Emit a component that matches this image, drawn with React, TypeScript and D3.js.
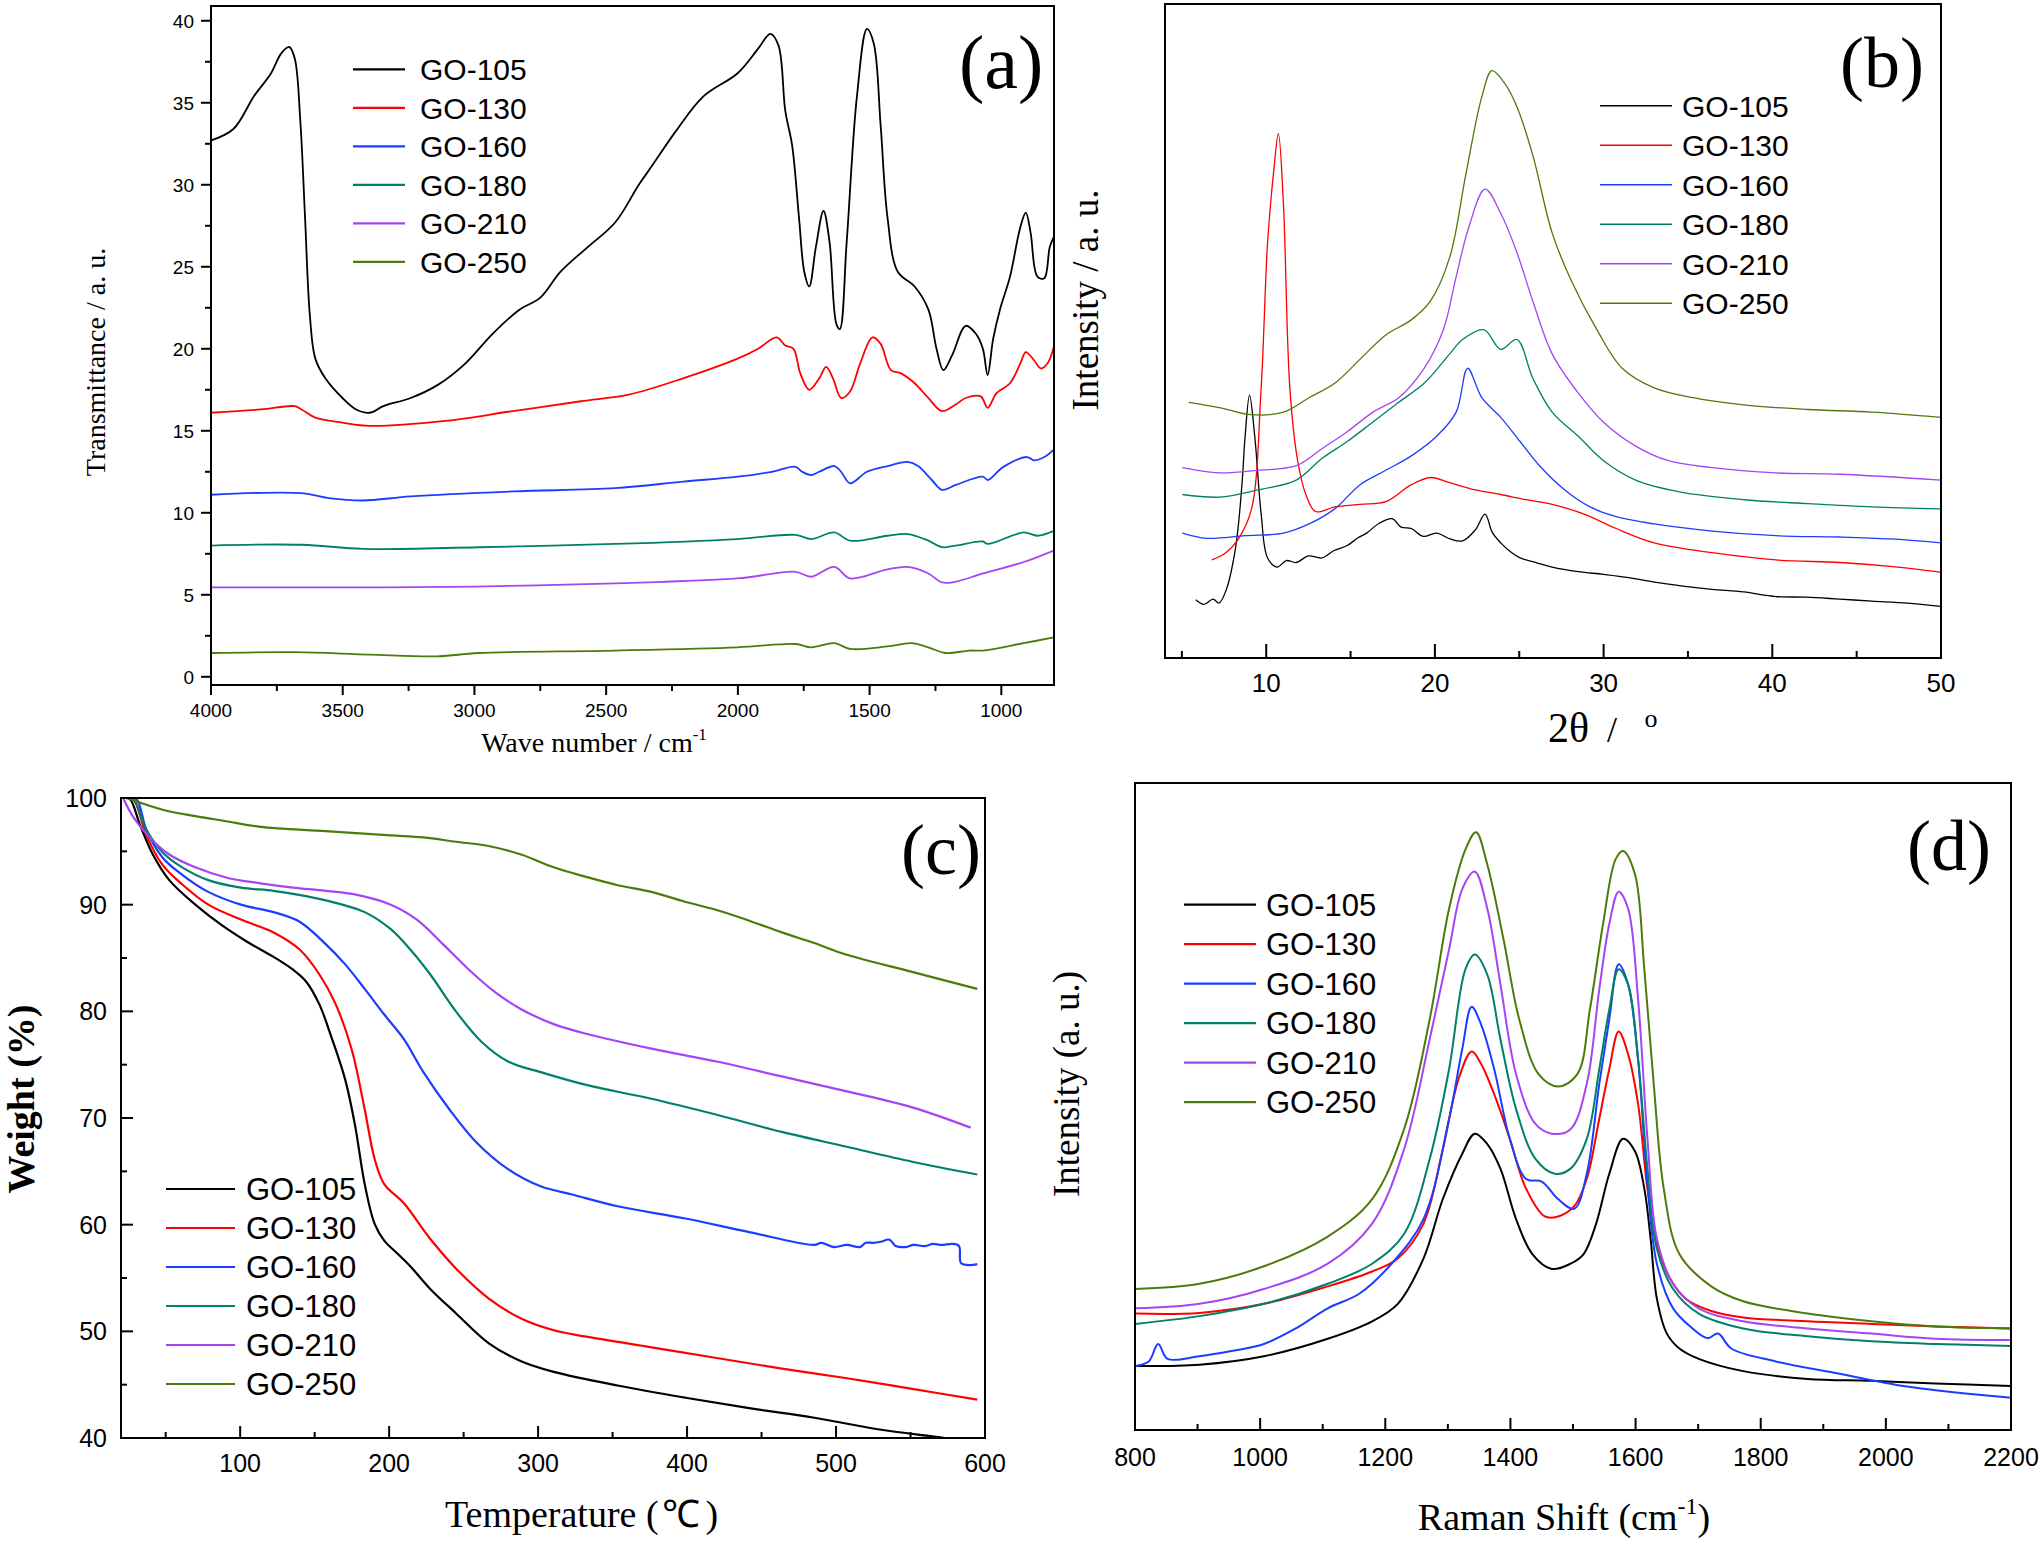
import React from "react";
import * as d3 from "d3";

type Pt = [number, number];

const NAMES = ["GO-105", "GO-130", "GO-160", "GO-180", "GO-210", "GO-250"];
const COLORS = ["#000000", "#ff0000", "#1c3cff", "#00806a", "#a445f5", "#4d7a0a"];

// ---------- (a) FTIR: wavenumber, transmittance ----------
const ftir105: Pt[] = [[4000,32.7],[3915,33.4],[3837,35.4],[3772,36.8],[3734,38.0],[3703,38.4],[3682,37.7],[3661,33.9],[3643,28.0],[3625,22.1],[3604,19.4],[3566,18.2],[3501,17.0],[3449,16.3],[3397,16.1],[3346,16.5],[3242,17.0],[3139,17.8],[3035,19.1],[2932,20.9],[2828,22.4],[2751,23.1],[2673,24.7],[2570,26.2],[2466,27.7],[2376,30.0],[2324,31.2],[2234,33.3],[2130,35.4],[2001,36.8],[1923,38.3],[1877,39.2],[1846,38.5],[1820,34.5],[1794,32.4],[1768,28.0],[1748,24.7],[1729,23.8],[1704,26.2],[1675,28.4],[1652,26.5],[1626,21.5],[1613,21.2],[1587,26.5],[1548,35.4],[1510,39.5],[1484,38.6],[1458,33.6],[1432,28.0],[1393,24.7],[1329,23.8],[1277,22.4],[1246,20.0],[1220,18.7],[1187,19.6],[1135,21.4],[1096,20.9],[1070,20.0],[1052,18.4],[1031,20.6],[1005,22.4],[967,24.4],[928,27.4],[907,28.3],[889,27.1],[863,24.4],[837,24.3],[816,26.2],[801,26.8]];
const ftir130: Pt[] = [[4000,16.1],[3811,16.3],[3682,16.5],[3656,16.3],[3604,15.8],[3501,15.5],[3397,15.3],[3113,15.6],[2854,16.2],[2596,16.8],[2415,17.2],[2208,18.2],[2001,19.4],[1923,20.0],[1853,20.7],[1820,20.2],[1789,20.0],[1763,18.5],[1729,17.5],[1691,18.2],[1665,18.9],[1639,18.2],[1608,17.0],[1574,17.4],[1536,19.1],[1489,20.7],[1458,20.3],[1419,18.7],[1380,18.5],[1329,17.9],[1277,17.0],[1225,16.2],[1173,16.6],[1135,17.0],[1078,17.1],[1052,16.4],[1018,17.3],[967,17.9],[928,19.1],[907,19.8],[876,19.3],[850,18.8],[825,19.1],[801,20.1]];
const ftir160: Pt[] = [[4000,11.1],[3656,11.2],[3553,10.9],[3423,10.75],[3242,11.0],[2854,11.3],[2466,11.5],[2208,11.9],[2001,12.2],[1871,12.5],[1781,12.8],[1756,12.5],[1722,12.3],[1691,12.5],[1634,12.85],[1608,12.5],[1574,11.8],[1510,12.5],[1432,12.85],[1355,13.1],[1316,12.85],[1264,12.0],[1225,11.4],[1173,11.7],[1070,12.2],[1052,12.0],[992,12.8],[902,13.4],[876,13.2],[837,13.4],[801,13.85]];
const ftir180: Pt[] = [[4000,8.0],[3656,8.05],[3423,7.8],[2984,7.9],[2466,8.1],[2001,8.4],[1781,8.65],[1722,8.4],[1634,8.8],[1574,8.3],[1432,8.6],[1355,8.7],[1277,8.3],[1225,7.9],[1173,8.0],[1070,8.25],[1052,8.1],[915,8.8],[863,8.6],[801,8.9]];
const ftir210: Pt[] = [[4000,5.45],[3500,5.45],[3000,5.5],[2466,5.7],[2001,6.0],[1781,6.4],[1722,6.1],[1634,6.7],[1574,6.0],[1432,6.55],[1355,6.7],[1277,6.3],[1225,5.75],[1173,5.8],[1070,6.3],[915,7.0],[801,7.7]];
const ftir250: Pt[] = [[4000,1.45],[3682,1.5],[3397,1.35],[3139,1.25],[2984,1.45],[2466,1.6],[2001,1.8],[1781,2.0],[1722,1.8],[1634,2.05],[1574,1.7],[1432,1.85],[1342,2.05],[1277,1.8],[1212,1.45],[1122,1.6],[1070,1.6],[915,2.05],[801,2.4]];
const FTIR = [ftir105, ftir130, ftir160, ftir180, ftir210, ftir250];
const A_XTICKS = [4000, 3500, 3000, 2500, 2000, 1500, 1000];
const A_XMINOR = [3750, 3250, 2750, 2250, 1750, 1250];
const A_YTICKS = [0, 5, 10, 15, 20, 25, 30, 35, 40];
const A_YMINOR = [2.5, 7.5, 12.5, 17.5, 22.5, 27.5, 32.5, 37.5];

// ---------- (b) XRD: 2theta, intensity (a.u.) ----------
const xrd105: Pt[] = [[5.83,8.9],[6.3,8.2],[6.85,9.0],[7.2,8.4],[7.6,10.2],[8.18,16.8],[8.56,26.5],[8.75,33.9],[9.01,40.2],[9.32,33.9],[9.7,22.0],[10.08,15.3],[10.64,13.9],[11.2,14.9],[11.78,14.6],[12.5,15.6],[13.3,15.3],[14.0,16.4],[14.8,17.2],[15.4,18.3],[15.95,19.1],[16.7,20.6],[17.47,21.3],[18.0,20.0],[18.6,19.8],[19.3,18.6],[20.1,19.1],[20.9,18.2],[21.64,17.9],[22.4,19.6],[22.97,22.0],[23.4,19.2],[23.9,17.6],[24.5,16.2],[25.05,15.3],[26.0,14.6],[26.95,13.9],[28.5,13.2],[29.98,12.8],[31.5,12.3],[33.0,11.6],[34.7,11.0],[36.43,10.5],[38.3,10.1],[40.22,9.4],[42.0,9.3],[44.0,9.0],[45.9,8.7],[48.0,8.4],[50.0,7.9]];
const xrd130: Pt[] = [[6.78,15.0],[7.6,16.1],[8.37,18.3],[9.13,22.8],[9.7,41.3],[10.08,63.5],[10.45,74.6],[10.72,80.2],[11.02,69.4],[11.4,41.3],[11.86,30.2],[12.35,25.0],[12.92,22.4],[14.06,23.1],[15.57,23.5],[17.09,23.9],[18.6,26.5],[19.74,27.6],[20.88,26.8],[22.4,25.7],[23.9,25.0],[25.4,24.2],[26.95,23.5],[28.84,22.0],[30.74,19.8],[33.0,17.6],[36.43,16.1],[40.22,15.0],[44.0,14.6],[47.0,14.0],[50.0,13.1]];
const xrd160: Pt[] = [[5.03,19.1],[6.47,18.3],[8.75,18.7],[11.02,19.1],[12.54,20.5],[14.06,22.8],[15.57,26.5],[17.09,28.7],[18.6,30.9],[20.1,33.9],[21.26,37.6],[21.94,44.3],[22.78,39.8],[23.9,36.8],[25.05,33.1],[26.2,29.4],[27.7,25.7],[29.2,23.1],[30.74,21.6],[33.0,20.5],[36.43,19.4],[40.22,18.7],[44.0,18.5],[47.0,18.2],[50.0,17.6]];
const xrd180: Pt[] = [[5.03,25.0],[7.23,24.6],[9.5,25.7],[11.78,27.2],[13.3,30.5],[14.8,33.1],[16.33,36.1],[17.85,39.1],[19.36,42.0],[20.88,46.5],[21.64,48.7],[22.9,50.2],[23.9,47.2],[24.86,48.7],[25.8,42.8],[26.95,37.6],[28.5,33.9],[29.98,30.2],[31.9,27.2],[34.5,25.4],[38.3,24.2],[42.1,23.6],[45.9,23.1],[50.0,22.8]];
const xrd210: Pt[] = [[5.03,29.1],[7.23,28.3],[9.5,28.7],[11.78,29.4],[13.3,32.0],[14.8,34.6],[16.33,37.6],[17.85,39.8],[19.36,44.3],[20.5,50.2],[21.26,58.3],[22.0,65.8],[22.97,71.7],[23.9,68.0],[24.86,62.0],[25.8,54.6],[26.95,46.5],[28.5,40.5],[29.98,36.1],[31.9,32.4],[33.8,30.2],[36.43,29.1],[40.22,28.3],[44.0,28.1],[50.0,27.2]];
const xrd250: Pt[] = [[5.41,39.1],[7.23,38.3],[9.13,37.2],[11.02,37.6],[12.54,39.8],[14.06,42.0],[15.57,45.7],[17.09,49.4],[18.6,51.7],[19.74,54.6],[20.88,61.3],[21.83,73.9],[22.78,85.8],[23.38,89.8],[24.1,88.0],[24.86,84.3],[25.8,76.9],[26.95,65.0],[28.1,57.6],[29.6,50.2],[31.1,44.3],[33.0,41.3],[35.3,39.8],[38.3,38.7],[42.1,38.0],[45.9,37.6],[50.0,36.8]];
const XRD = [xrd105, xrd130, xrd160, xrd180, xrd210, xrd250];
const B_XTICKS = [10, 20, 30, 40, 50];
const B_XMINOR = [5, 15, 25, 35, 45];

// ---------- (c) TGA: temperature, weight % ----------
const tga105: Pt[] = [[22,100],[26,99.9],[32.7,97.5],[41.4,94.7],[52.4,92.3],[69.9,90.0],[87.4,88.1],[104.9,86.5],[122.4,85.1],[135.5,83.9],[144.2,82.8],[153.0,80.7],[161.7,77.4],[170.5,73.6],[177.0,69.4],[183.6,63.8],[190.2,60.1],[196.7,58.5],[205.5,57.3],[214.2,56.1],[227.4,54.0],[244.8,51.7],[266.7,48.9],[288.6,47.2],[310.5,46.2],[354.2,44.9],[398.0,43.8],[441.7,42.8],[485.4,41.9],[529.2,40.8],[572.9,40.0],[590,39.6]];
const tga130: Pt[] = [[24,100],[28.3,99.9],[37.1,96.5],[48.0,93.7],[61.1,91.9],[78.6,90.0],[100.5,88.6],[122.4,87.4],[139.9,85.8],[153.0,83.5],[164.0,80.7],[174.9,76.4],[183.6,70.8],[190.2,66.2],[196.7,63.8],[209.9,62.0],[227.4,58.7],[244.8,55.9],[266.7,53.1],[288.6,51.2],[310.5,50.1],[332.3,49.5],[376.1,48.5],[419.9,47.5],[463.6,46.5],[507.3,45.6],[551.1,44.6],[594.8,43.6]];
const tga160: Pt[] = [[26,100],[30.5,99.9],[37.1,97.0],[48.0,94.4],[61.1,92.8],[78.6,91.2],[100.5,90.0],[122.4,89.3],[139.9,88.4],[157.4,86.3],[170.5,84.4],[183.6,82.1],[196.7,79.7],[209.9,77.4],[223.0,74.3],[240.5,70.8],[258.0,67.8],[279.8,65.2],[301.7,63.6],[323.6,62.8],[354.2,61.7],[398.0,60.6],[441.7,59.3],[485.4,58.1],[490,58.3],[498.6,57.9],[507.3,58.1],[516.1,57.9],[520,58.3],[524.8,58.3],[530,58.4],[535.8,58.6],[540,58.0],[546.7,57.9],[552,58.1],[559.8,58.0],[565,58.2],[570.7,58.1],[578,58.2],[582.5,58.0],[583.9,56.4],[590,56.2],[594.8,56.3]];
const tga180: Pt[] = [[24,100],[28.3,99.9],[37.1,97.0],[48.0,94.9],[61.1,93.5],[78.6,92.3],[100.5,91.6],[122.4,91.3],[144.2,90.8],[166.1,90.1],[183.6,89.3],[201.1,87.7],[214.2,85.8],[227.4,83.5],[244.8,80.0],[262.3,77.1],[279.8,75.3],[301.7,74.3],[332.3,73.1],[376.1,71.8],[419.9,70.3],[463.6,68.7],[507.3,67.3],[551.1,65.9],[594.8,64.7]];
const tga210: Pt[] = [[21.7,99.9],[28.3,98.2],[39.2,96.3],[52.4,94.7],[69.9,93.5],[91.7,92.5],[113.6,92.0],[135.5,91.6],[157.4,91.3],[179.2,90.9],[201.1,90.0],[218.6,88.6],[236.1,86.3],[253.6,83.9],[271.1,81.8],[288.6,80.2],[310.5,78.8],[332.3,77.9],[376.1,76.5],[419.9,75.3],[463.6,73.9],[507.3,72.5],[551.1,71.0],[590.4,69.1]];
const tga250: Pt[] = [[23.9,100],[48.0,98.9],[69.9,98.3],[91.7,97.8],[113.6,97.3],[157.4,96.9],[201.1,96.5],[223.0,96.3],[244.8,95.9],[266.7,95.5],[288.6,94.7],[310.5,93.5],[332.3,92.6],[354.2,91.8],[376.1,91.2],[398.0,90.3],[419.9,89.5],[441.7,88.5],[463.6,87.4],[485.4,86.4],[507.3,85.3],[551.1,83.7],[594.8,82.1]];
const TGA = [tga105, tga130, tga160, tga180, tga210, tga250];
const C_XTICKS = [100, 200, 300, 400, 500, 600];
const C_XMINOR = [50, 150, 250, 350, 450, 550];
const C_YTICKS = [40, 50, 60, 70, 80, 90, 100];
const C_YMINOR = [45, 55, 65, 75, 85, 95];

// ---------- (d) Raman: shift, intensity (a.u.) ----------
const ram105: Pt[] = [[800,9.9],[903,10.1],[1006,11.4],[1108,14.1],[1179,16.8],[1220,19.5],[1261,26.5],[1292,35.7],[1323,42.7],[1343,45.8],[1363,44.2],[1384,40.4],[1409,32.6],[1435,27.2],[1466,24.9],[1496,25.7],[1517,27.2],[1537,31.9],[1558,39.6],[1580,45.0],[1599,43.1],[1614,37.3],[1624,29.6],[1634,20.3],[1650,14.9],[1670,12.6],[1701,11.0],[1772,9.1],[1875,7.9],[1977,7.6],[2079,7.2],[2200,6.8]];
const ram130: Pt[] = [[800,18.0],[903,18.1],[1006,19.5],[1108,22.2],[1179,24.5],[1220,26.5],[1261,31.9],[1292,43.4],[1317,54.2],[1338,58.5],[1353,56.6],[1374,51.9],[1399,45.0],[1425,37.3],[1455,33.0],[1476,33.0],[1502,34.6],[1522,38.8],[1542,48.1],[1558,55.8],[1573,61.6],[1588,58.1],[1604,50.4],[1619,37.3],[1634,28.8],[1655,23.4],[1680,20.3],[1721,18.4],[1772,17.4],[1875,16.8],[1977,16.4],[2079,16.0],[2200,15.7]];
const ram160: Pt[] = [[800,9.9],[822,10.6],[837,13.3],[852,11.0],[903,11.4],[954,12.2],[1006,13.3],[1057,15.7],[1108,18.8],[1159,21.1],[1210,25.7],[1261,32.6],[1302,48.1],[1323,58.9],[1338,65.4],[1353,62.7],[1374,55.8],[1399,45.0],[1425,38.8],[1450,38.4],[1476,35.7],[1502,34.2],[1522,39.6],[1542,53.5],[1558,63.5],[1573,72.0],[1588,68.9],[1604,57.3],[1619,38.0],[1634,25.7],[1660,18.8],[1691,15.7],[1715,14.2],[1732,14.9],[1753,12.6],[1824,10.6],[1926,8.7],[2028,6.8],[2131,5.6],[2200,5.0]];
const ram180: Pt[] = [[800,16.4],[903,17.6],[1006,19.5],[1108,22.6],[1179,25.7],[1230,30.3],[1271,41.9],[1302,55.8],[1328,71.2],[1343,73.5],[1363,70.4],[1384,60.4],[1409,49.6],[1440,41.9],[1471,39.6],[1496,40.4],[1522,45.0],[1542,55.8],[1558,65.0],[1573,71.2],[1588,68.9],[1604,57.3],[1619,40.4],[1634,28.0],[1660,21.8],[1701,18.0],[1772,15.7],[1875,14.5],[1977,13.7],[2079,13.3],[2200,13.0]];
const ram210: Pt[] = [[800,18.8],[903,19.5],[1006,21.8],[1108,25.7],[1179,31.9],[1230,43.4],[1271,60.4],[1302,74.3],[1323,83.6],[1343,86.3],[1363,80.6],[1384,68.9],[1409,55.0],[1440,47.3],[1466,45.8],[1496,46.5],[1522,53.5],[1542,68.1],[1558,78.2],[1573,83.2],[1588,80.6],[1604,66.6],[1619,45.0],[1634,29.6],[1660,22.6],[1701,18.8],[1772,16.8],[1875,15.7],[1977,14.9],[2079,14.1],[2200,13.9]];
const ram250: Pt[] = [[800,21.8],[903,22.6],[1006,25.3],[1108,29.9],[1179,35.7],[1230,46.5],[1271,63.5],[1302,80.6],[1328,89.7],[1345,92.4],[1363,87.4],[1389,75.8],[1414,63.5],[1445,55.0],[1476,53.1],[1507,55.0],[1527,65.0],[1548,78.2],[1568,88.2],[1580,89.5],[1599,85.9],[1614,71.2],[1629,53.5],[1645,37.3],[1670,27.2],[1721,22.2],[1772,19.9],[1875,18.0],[1977,16.8],[2079,16.0],[2200,15.7]];
const RAMAN = [ram105, ram130, ram160, ram180, ram210, ram250];
const D_XTICKS = [800, 1000, 1200, 1400, 1600, 1800, 2000, 2200];
const D_XMINOR = [900, 1100, 1300, 1500, 1700, 1900, 2100];

const SANS = "'Liberation Sans', Arial, sans-serif";
const SERIF = "'Liberation Serif', 'Times New Roman', serif";

type Box = { x0: number; x1: number; y0: number; y1: number };

function Curves({ id, box, data, xs, ys, lw }: { id: string; box: Box; data: Pt[][]; xs: d3.ScaleLinear<number, number>; ys: d3.ScaleLinear<number, number>; lw: number }) {
  const line = d3.line<Pt>().x((d) => xs(d[0])).y((d) => ys(d[1])).curve(d3.curveCatmullRom.alpha(0.5));
  return (
    <g>
      <clipPath id={id}>
        <rect x={box.x0} y={box.y0} width={box.x1 - box.x0} height={box.y1 - box.y0} />
      </clipPath>
      <g clipPath={`url(#${id})`}>
        {data.map((s, i) => (
          <path key={i} d={line(s) || ""} fill="none" stroke={COLORS[i]} strokeWidth={lw} strokeLinejoin="round" />
        ))}
      </g>
    </g>
  );
}

function XTicks({ xs, y, values, len, inward, lw = 2 }: { xs: d3.ScaleLinear<number, number>; y: number; values: number[]; len: number; inward: boolean; lw?: number }) {
  return (
    <g>
      {values.map((v) => (
        <line key={v} x1={xs(v)} x2={xs(v)} y1={y} y2={inward ? y - len : y + len} stroke="#000" strokeWidth={lw} />
      ))}
    </g>
  );
}

function YTicks({ ys, x, values, len, inward, lw = 2 }: { ys: d3.ScaleLinear<number, number>; x: number; values: number[]; len: number; inward: boolean; lw?: number }) {
  return (
    <g>
      {values.map((v) => (
        <line key={v} y1={ys(v)} y2={ys(v)} x1={x} x2={inward ? x + len : x - len} stroke="#000" strokeWidth={lw} />
      ))}
    </g>
  );
}

function Legend({ lx0, lx1, tx, y0, gap, fs, lw }: { lx0: number; lx1: number; tx: number; y0: number; gap: number; fs: number; lw: number }) {
  return (
    <g>
      {NAMES.map((n, i) => (
        <g key={n}>
          <line x1={lx0} x2={lx1} y1={y0 + i * gap} y2={y0 + i * gap} stroke={COLORS[i]} strokeWidth={lw} />
          <text x={tx} y={y0 + i * gap + fs * 0.36} fontFamily={SANS} fontSize={fs} fill="#000">{n}</text>
        </g>
      ))}
    </g>
  );
}

function Frame({ box, lw = 2 }: { box: Box; lw?: number }) {
  return <rect x={box.x0} y={box.y0} width={box.x1 - box.x0} height={box.y1 - box.y0} fill="none" stroke="#000" strokeWidth={lw} />;
}

export default function App() {
  // (a)
  const A: Box = { x0: 211, x1: 1054, y0: 6, y1: 685 };
  const axs = d3.scaleLinear().domain([4000, 800]).range([A.x0, A.x1]);
  const ays = d3.scaleLinear().domain([-0.5, 40.9]).range([A.y1, A.y0]);
  // (b)
  const B: Box = { x0: 1165, x1: 1941, y0: 4, y1: 658 };
  const bxs = d3.scaleLinear().domain([4, 50]).range([B.x0, B.x1]);
  const bys = d3.scaleLinear().domain([0, 100]).range([B.y1, B.y0]);
  // (c)
  const C: Box = { x0: 121, x1: 985, y0: 798, y1: 1438 };
  const cxs = d3.scaleLinear().domain([20, 600]).range([C.x0, C.x1]);
  const cys = d3.scaleLinear().domain([40, 100]).range([C.y1, C.y0]);
  // (d)
  const D: Box = { x0: 1135, x1: 2011, y0: 783, y1: 1430 };
  const dxs = d3.scaleLinear().domain([800, 2200]).range([D.x0, D.x1]);
  const dys = d3.scaleLinear().domain([0, 100]).range([D.y1, D.y0]);

  return (
    <div style={{ position: "absolute", left: 0, top: 0, width: 2043, height: 1542, background: "#fff" }}>
      <svg width={2043} height={1542} viewBox="0 0 2043 1542" style={{ display: "block" }}>
        <rect x={0} y={0} width={2043} height={1542} fill="#fff" />

        {/* ---------- (a) ---------- */}
        <Curves id="clipA" box={A} data={FTIR} xs={axs} ys={ays} lw={1.8} />
        <Frame box={A} />
        <XTicks xs={axs} y={A.y1} values={A_XTICKS} len={10} inward={false} />
        <XTicks xs={axs} y={A.y1} values={A_XMINOR} len={6} inward={false} />
        <YTicks ys={ays} x={A.x0} values={A_YTICKS} len={10} inward={false} />
        <YTicks ys={ays} x={A.x0} values={A_YMINOR} len={6} inward={false} />
        {A_YTICKS.map((v) => (
          <text key={v} x={A.x0 - 17} y={ays(v) + 7} textAnchor="end" fontFamily={SANS} fontSize={19}>{v}</text>
        ))}
        {A_XTICKS.map((v) => (
          <text key={v} x={axs(v)} y={717} textAnchor="middle" fontFamily={SANS} fontSize={19}>{v}</text>
        ))}
        <text x={594} y={752} textAnchor="middle" fontFamily={SERIF} fontSize={28}>
          Wave number / cm<tspan dy={-12} fontSize={17}>-1</tspan>
        </text>
        <text transform="translate(95,362) rotate(-90)" textAnchor="middle" dominantBaseline="central" fontFamily={SERIF} fontSize={28}>
          Transmittance / a. u.
        </text>
        <Legend lx0={353} lx1={405} tx={420} y0={69.3} gap={38.5} fs={30} lw={2.2} />
        <text x={959} y={88} fontFamily={SERIF} fontSize={76}>(a)</text>

        {/* ---------- (b) ---------- */}
        <Curves id="clipB" box={B} data={XRD} xs={bxs} ys={bys} lw={1.3} />
        <Frame box={B} />
        <XTicks xs={bxs} y={B.y1} values={B_XTICKS} len={14} inward={true} />
        <XTicks xs={bxs} y={B.y1} values={B_XMINOR} len={7} inward={true} />
        {B_XTICKS.map((v) => (
          <text key={v} x={bxs(v)} y={692} textAnchor="middle" fontFamily={SANS} fontSize={26}>{v}</text>
        ))}
        <text x={1548} y={742} fontFamily={SERIF} fontSize={42}>2θ</text>
        <text x={1612} y={742} textAnchor="middle" fontFamily={SERIF} fontSize={36}>/</text>
        <text x={1651} y={727} textAnchor="middle" fontFamily={SERIF} fontSize={26}>o</text>
        <text transform="translate(1085,300) rotate(-90)" textAnchor="middle" dominantBaseline="central" fontFamily={SERIF} fontSize={37}>
          Intensity / a. u.
        </text>
        <Legend lx0={1600} lx1={1672} tx={1682} y0={105.7} gap={39.5} fs={30} lw={1.4} />
        <text x={1840} y={87} fontFamily={SERIF} fontSize={72}>(b)</text>

        {/* ---------- (c) ---------- */}
        <Curves id="clipC" box={C} data={TGA} xs={cxs} ys={cys} lw={2.2} />
        <Frame box={C} />
        <XTicks xs={cxs} y={C.y1} values={C_XTICKS} len={12} inward={true} />
        <XTicks xs={cxs} y={C.y1} values={C_XMINOR} len={6} inward={true} />
        <YTicks ys={cys} x={C.x0} values={C_YTICKS} len={12} inward={true} />
        <YTicks ys={cys} x={C.x0} values={C_YMINOR} len={6} inward={true} />
        {C_YTICKS.map((v) => (
          <text key={v} x={107} y={cys(v) + 9} textAnchor="end" fontFamily={SANS} fontSize={25}>{v}</text>
        ))}
        {C_XTICKS.map((v) => (
          <text key={v} x={cxs(v)} y={1472} textAnchor="middle" fontFamily={SANS} fontSize={25}>{v}</text>
        ))}
        <text x={445} y={1527} fontFamily={SERIF} fontSize={38}>
          Temperature (<tspan dx={3}>℃</tspan><tspan dx={6}>)</tspan>
        </text>
        <text transform="translate(21,1099) rotate(-90)" textAnchor="middle" dominantBaseline="central" fontFamily={SERIF} fontWeight="bold" fontSize={38}>
          Weight (%)
        </text>
        <Legend lx0={166} lx1={235} tx={246} y0={1189} gap={39} fs={31} lw={2.2} />
        <text x={901} y={874} fontFamily={SERIF} fontSize={72}>(c)</text>

        {/* ---------- (d) ---------- */}
        <Curves id="clipD" box={D} data={RAMAN} xs={dxs} ys={dys} lw={2} />
        <Frame box={D} />
        <XTicks xs={dxs} y={D.y1} values={D_XTICKS} len={12} inward={true} />
        <XTicks xs={dxs} y={D.y1} values={D_XMINOR} len={6} inward={true} />
        {D_XTICKS.map((v) => (
          <text key={v} x={dxs(v)} y={1466} textAnchor="middle" fontFamily={SANS} fontSize={25}>{v}</text>
        ))}
        <text x={1564} y={1530} textAnchor="middle" fontFamily={SERIF} fontSize={38}>
          Raman Shift (cm<tspan dy={-16} fontSize={24}>-1</tspan><tspan dy={16}>)</tspan>
        </text>
        <text transform="translate(1066,1084) rotate(-90)" textAnchor="middle" dominantBaseline="central" fontFamily={SERIF} fontSize={37}>
          Intensity (a. u.)
        </text>
        <Legend lx0={1184} lx1={1256} tx={1266} y0={904.6} gap={39.5} fs={31} lw={2.2} />
        <text x={1907} y={870} fontFamily={SERIF} fontSize={72}>(d)</text>
      </svg>
    </div>
  );
}
